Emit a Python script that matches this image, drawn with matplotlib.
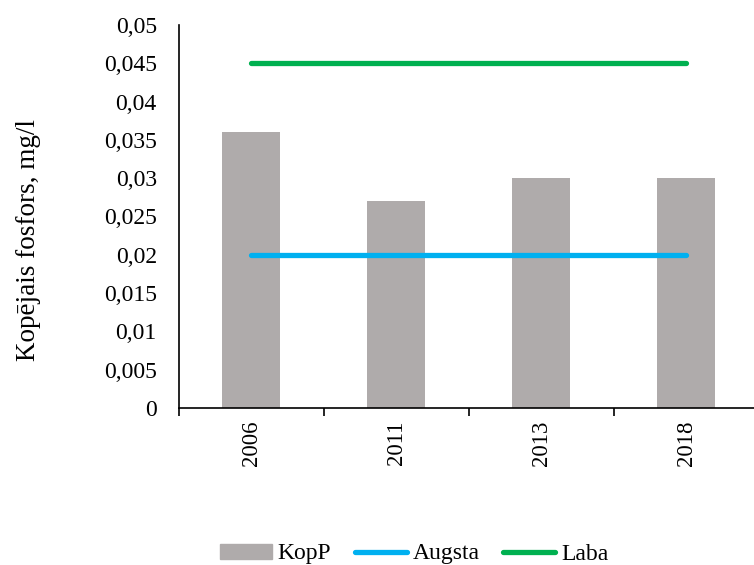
import matplotlib
matplotlib.use("Agg")
import matplotlib.pyplot as plt
from matplotlib.ticker import FuncFormatter, MultipleLocator
from matplotlib.lines import Line2D
from matplotlib.patches import Patch

years = ["2006", "2011", "2013", "2018"]
kopp = [0.036, 0.027, 0.030, 0.030]
augsta = [0.02, 0.02, 0.02, 0.02]
laba = [0.045, 0.045, 0.045, 0.045]

plt.rcParams['font.family'] = ['Liberation Serif', 'DejaVu Serif']

W, H = 754, 565
fig = plt.figure(figsize=(W / 100, H / 100), dpi=100)
ax = fig.add_axes([179 / W, 157 / H, (758.5 - 179) / W, (408 - 25) / H])

x = list(range(len(years)))
ax.bar(x, kopp, width=0.4, color='#AFABAB', zorder=2)
ax.plot(x, augsta, color='#00B0F0', lw=3.8, solid_capstyle='round', zorder=3)
ax.plot(x, laba, color='#00B050', lw=3.8, solid_capstyle='round', zorder=3)

ax.set_xlim(-0.5, len(years) - 0.5)
ax.set_ylim(0, 0.05)
ax.yaxis.set_major_locator(MultipleLocator(0.005))
ax.yaxis.set_major_formatter(FuncFormatter(lambda v, p: ('%g' % round(v, 4)).replace('.', ',')))
ax.set_xticks(x)
ax.set_xticklabels(years, rotation=90)
ax.set_xticks([i - 0.5 for i in range(len(years) + 1)], minor=True)
ax.tick_params(axis='x', which='major', length=0, labelsize=16.5, pad=9)
ax.tick_params(axis='x', which='minor', length=6, width=1.2, direction='out')
ax.tick_params(axis='y', length=0, labelsize=17, pad=16)

for s in ['top', 'right']:
    ax.spines[s].set_visible(False)
for s in ['left', 'bottom']:
    ax.spines[s].set_linewidth(1.2)
    ax.spines[s].set_color('black')

ax.set_ylabel('Kopējais fosfors, mg/l', fontsize=19.5)
ax.yaxis.set_label_coords((41 - 179) / 579.5, (408 - 240) / 383)

handles = [Patch(color='#AFABAB'),
           Line2D([], [], color='#00B0F0', lw=3.8, solid_capstyle='round'),
           Line2D([], [], color='#00B050', lw=3.8, solid_capstyle='round')]
fig.legend(handles, ['KopP', 'Augsta', 'Laba'], loc='center', bbox_to_anchor=(414 / W, 1 - 554 / H),
           ncol=3, frameon=False, fontsize=17, handlelength=2.2, handletextpad=0.25,
           columnspacing=1.0, handleheight=0.6, borderpad=0)

fig.savefig('out.png', dpi=100)
